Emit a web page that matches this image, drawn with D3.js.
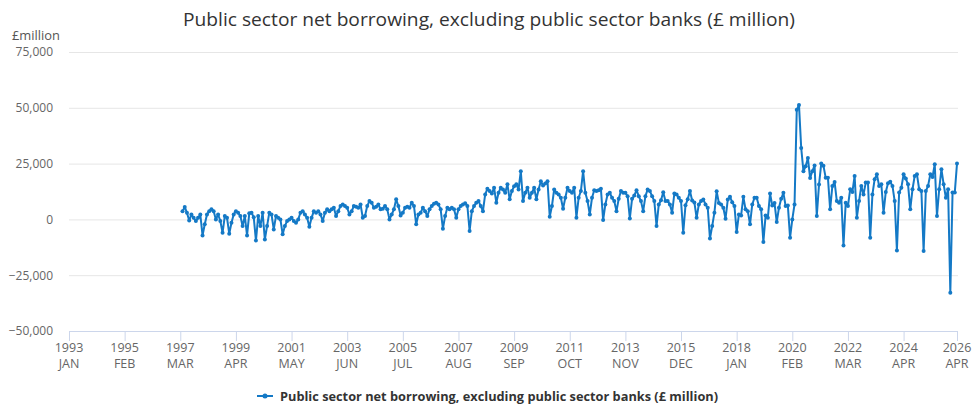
<!DOCTYPE html>
<html>
<head>
<meta charset="utf-8">
<script src="https://cdn.jsdelivr.net/npm/d3@7"></script>
<style>
  body { margin: 0; background: #fff; }
  text { font-family: "Open Sans", sans-serif; }
</style>
</head>
<body>
<script>
// monthly PSNB ex (£ million), first value = April 1997
var startYear = 1997, startMonth = 3;
var borrowing = [
  3700, 5500, 3000, -500, 2200, 700, -700, 700, 2200,
  -7200, -2200, 2200, 3700, 4500, 3700, 0, 2200, -700, -6000, 1500, 700,
  -6400, -1500, 2200, 3700, 3000, 1500, -3000, 1500, -7200, 2700, 3000, 1000,
  -9500, 1500, -3000, 3000, -9000, -3000, 3000, 2200, -4500, 1500, 700, 0,
  -6700, -3000, -700, 0, 700, -700, -1500, 0, 3000, 3700, 2200, 700,
  -3300, 700, 3700, 3000, 3700, 2200, -700, 3000, 4500, 3700, 4500, 5200,
  1500, 3700, 6000, 6700, 6000, 5200, 2200, 3700, 6000, 5700, 5200, 6700,
  700, 1500, 6000, 8200, 7500, 5200, 5700, 6700, 4500, 4800, 6000, 4500,
  0, 2200, 4500, 9000, 6000, 1800, 3000, 5200, 5700, 5200, 7500, 6000,
  -2200, 2200, 3000, 5200, 3700, 1500, 4500, 6000, 7000, 7500, 6700, 4500,
  -4200, 1500, 5200, 4500, 5200, 4500, 750, 4500, 6000, 6700, 7200, 6000,
  -5200, 3700, 6000, 7500, 8200, 6000, 3700, 11200, 13700, 12700, 11600, 14200,
  7500, 11900, 14200, 13400, 11900, 15700, 9000, 12700, 14900, 15700, 13400, 21600,
  8200, 11900, 14200, 9700, 11900, 14200, 9000, 13400, 17100, 15200, 16100, 17100,
  1200, 6000, 13400, 11900, 11200, 9700, 4800, 9700, 14200, 12700, 11900, 14200,
  750, 9700, 12700, 21600, 11900, 8200, 2200, 9700, 13100, 12700, 13100, 13700,
  -300, 6700, 11200, 11900, 9700, 8200, 3700, 9200, 12700, 11900, 11900, 10400,
  450, 9200, 10700, 13100, 10400, 8200, 3700, 10400, 13400, 12700, 10400, 8200,
  -3000, 6700, 8600, 12200, 8200, 8200, 6700, 3000, 11600, 11200, 9700, 8200,
  -6000, 6300, 9000, 12700, 8500, 7600, 700, 6700, 8200, 8900, 6700, 5200,
  -8600, -3000, 3000, 12600, 7400, 6700, 5200, 300, 8900, 10100, 7700, 6000,
  -5700, 2200, 1800, 10100, 4500, 3700, -2200, 6700, 9700, 9700, 6000, 4500,
  -10100, 1800, 700, 11600, 6200, 7400, -1200, 5200, 9200, 11900, 6000, 6200,
  -8200, 0, 6700, 49100, 51300, 32000, 21600, 23800, 27500, 18600, 21600, 24100,
  1500, 15600, 25000, 24000, 18700, 18700, 4500, 15000, 16800, 8200, 7500, 9700,
  -11700, 7500, 6000, 13500, 12300, 19500, 750, 8200, 15000, 11200, 16500, 16500,
  -8200, 11200, 18000, 20200, 15000, 15700, 3000, 12300, 16200, 16900, 15000, 8200,
  -13900, 12000, 14200, 20200, 18300, 15700, 4500, 13500, 19500, 20200, 13500, 12700,
  -14200, 12700, 15000, 20200, 19000, 24700, 1500, 13500, 22500, 15700, 9700, 13500,
  -32900, 12000, 12000, 25000
];

// x axis categories run monthly from JAN 1993 to APR 2026
var tickIndex = [0, 25, 50, 75, 100, 125, 150, 175, 200, 225, 250, 275, 300, 325, 350, 375, 399];
var tickYears = ["1993","1995","1997","1999","2001","2003","2005","2007","2009","2011","2013","2015","2018","2020","2022","2024","2026"];
var tickMonths = ["JAN","FEB","MAR","APR","MAY","JUN","JUL","AUG","SEP","OCT","NOV","DEC","JAN","FEB","MAR","APR","APR"];
var yTicks = [-50000, -25000, 0, 25000, 50000, 75000];

var title = "Public sector net borrowing, excluding public sector banks (£ million)";
var seriesName = "Public sector net borrowing, excluding public sector banks (£ million)";
var blue = "#1479c6";

var w = 980, h = 412;
var svg = d3.select("body").append("svg").attr("width", w).attr("height", h);

var x = d3.scaleLinear().domain([0, 399]).range([69, 957]);
var y = d3.scaleLinear().domain([-50000, 75000]).range([331, 52]);

var offset = (startYear - 1993) * 12 + startMonth;
var pts = borrowing.map(function(v, i) { return { i: offset + i, v: v }; });

// title
svg.append("text")
  .attr("x", 489).attr("y", 26)
  .attr("text-anchor", "middle")
  .attr("textLength", 612).attr("lengthAdjust", "spacingAndGlyphs")
  .style("font-size", "19px").style("fill", "#333")
  .text(title);

svg.append("text")
  .attr("x", 12).attr("y", 40)
  .attr("textLength", 48).attr("lengthAdjust", "spacingAndGlyphs")
  .style("font-size", "12px").style("fill", "#555")
  .text("£million");

// y grid + labels
var yAxis = svg.append("g")
  .attr("transform", "translate(69,0)")
  .call(d3.axisLeft(y).tickValues(yTicks).tickSize(-(958 - 69)).tickPadding(16)
    .tickFormat(d3.format(",")));
yAxis.select(".domain").remove();
yAxis.selectAll("line").attr("stroke", "#e6e6e6");
yAxis.selectAll("text").style("font-size", "12px").style("fill", "#666")
  .style("font-family", "'Open Sans', sans-serif");

// x axis
var xAxis = svg.append("g")
  .attr("transform", "translate(0,331)")
  .call(d3.axisBottom(x).tickValues(tickIndex).tickSize(10).tickSizeOuter(0).tickFormat(""));
xAxis.select(".domain").attr("stroke", "#ccd6eb");
xAxis.selectAll("line").attr("stroke", "#ccd6eb");

var xl = svg.append("g").selectAll("text")
  .data(tickIndex)
  .enter().append("text")
  .attr("text-anchor", "middle")
  .style("font-size", "12.5px").style("fill", "#666");
xl.append("tspan").attr("x", function(d) { return x(d); }).attr("y", 352)
  .text(function(d, i) { return tickYears[i]; });
xl.append("tspan").attr("x", function(d) { return x(d); }).attr("y", 368)
  .text(function(d, i) { return tickMonths[i]; });

// series
var line = d3.line().x(function(d) { return x(d.i); }).y(function(d) { return y(d.v); });
svg.append("path").datum(pts)
  .attr("d", line).attr("fill", "none")
  .attr("stroke", blue).attr("stroke-width", 2).attr("stroke-linejoin", "round");

svg.append("g").selectAll("circle")
  .data(pts).enter().append("circle")
  .attr("cx", function(d) { return x(d.i); })
  .attr("cy", function(d) { return y(d.v); })
  .attr("r", 2)
  .attr("fill", blue);

// legend
var lg = svg.append("g");
lg.append("line").attr("x1", 257).attr("x2", 273).attr("y1", 396).attr("y2", 396)
  .attr("stroke", blue).attr("stroke-width", 2);
lg.append("circle").attr("cx", 265).attr("cy", 396).attr("r", 2.5).attr("fill", blue);
lg.append("text").attr("x", 280).attr("y", 401)
  .attr("textLength", 438).attr("lengthAdjust", "spacingAndGlyphs")
  .style("font-size", "13px").style("font-weight", "bold").style("fill", "#333")
  .text(seriesName);
</script>
</body>
</html>
